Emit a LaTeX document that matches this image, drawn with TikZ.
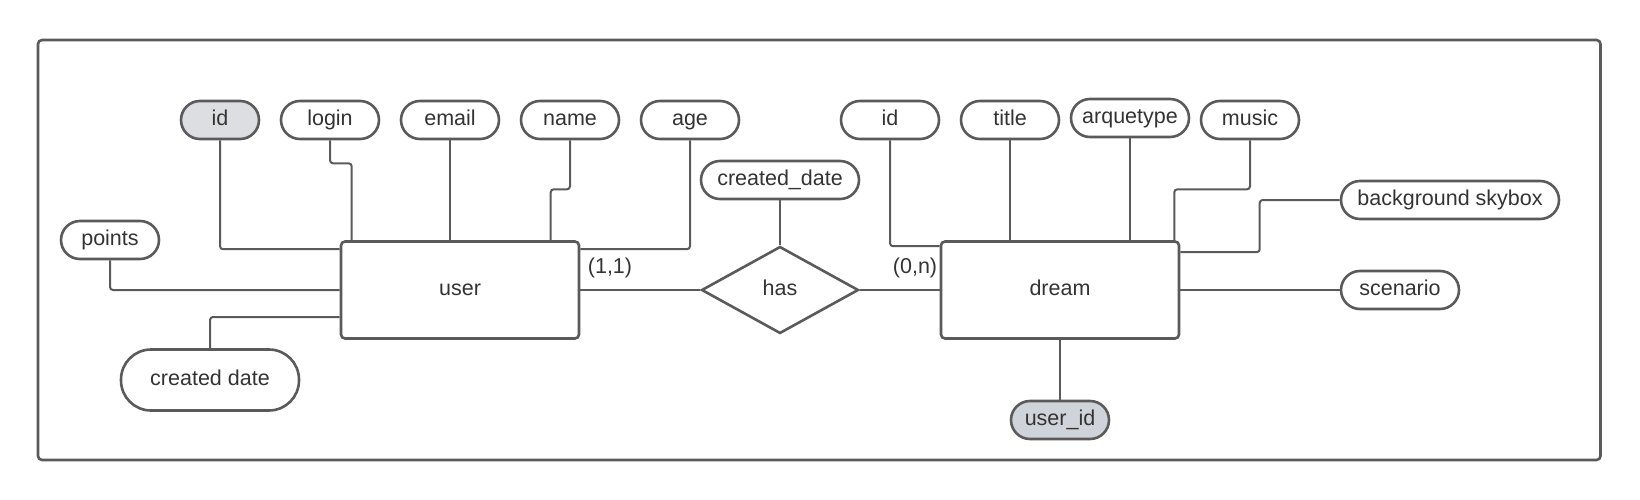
\documentclass[tikz,border=0pt]{standalone}
\usepackage{fontspec}
\setmainfont{Liberation Sans}
\usetikzlibrary{shapes.geometric}
\definecolor{lc}{HTML}{5A5A5A}
\definecolor{tc}{HTML}{333333}
\definecolor{keyfill}{HTML}{DCDEE1}
\definecolor{fkfill}{HTML}{CFD4DA}
\tikzset{
  txt/.style={text=tc, font=\fontsize{21.5}{25}\selectfont, text height=15.5pt, text depth=4.5pt},
  attr/.style={txt, draw=lc, line width=2.6pt, fill=white, rounded corners=19pt,
    minimum height=38pt, minimum width=98pt, inner sep=0pt},
  entity/.style={txt, draw=lc, line width=2.6pt, fill=white, rounded corners=4pt,
    minimum width=238pt, minimum height=97pt, inner sep=0pt},
  rel/.style={txt, diamond, draw=lc, line width=2.6pt, fill=white,
    minimum width=157pt, minimum height=87pt, inner sep=0pt},
  conn/.style={draw=lc, line width=2pt, rounded corners=3pt},
  card/.style={txt, inner sep=0pt},
}
\begin{document}
\begin{tikzpicture}[x=1pt, y=-1pt]
\useasboundingbox (0,0) rectangle (1640,500);
\draw[draw=lc, line width=2.6pt, rounded corners=4pt] (38,40) rectangle (1600.5,460);

% user side attributes
\node[attr, fill=keyfill, minimum width=78pt] (uid) at (220,120) {id};
\node[attr] (login) at (330,120) {login};
\node[attr] (email) at (450,120) {email};
\node[attr] (name) at (570,120) {name};
\node[attr] (age) at (690,120) {age};
\node[attr] (points) at (110,240) {points};
\node[attr, minimum width=178pt, minimum height=61pt, rounded corners=30pt] (cdate) at (210,380) {created date};

% relationship attribute
\node[attr, minimum width=158pt] (rdate) at (780,180) {created\_date};

% dream side attributes
\node[attr] (did) at (890,120) {id};
\node[attr] (title) at (1010,120) {title};
\node[attr, minimum width=118pt] (arq) at (1130,118) {arquetype};
\node[attr] (music) at (1250,120) {music};
\node[attr, minimum width=218pt] (sky) at (1450,200) {background skybox};
\node[attr, minimum width=118pt] (scen) at (1400,290) {scenario};
\node[attr, fill=fkfill] (uidd) at (1060,420) {user\_id};

% entities and relationship
\node[entity] (user) at (460,290) {user};
\node[entity] (dream) at (1060,290) {dream};
\node[rel] (has) at (780,290) {has};

% cardinalities
\node[card] (c11) at (610,268) {(1,1)};
\node[card] (c0n) at (915,268) {(0,n)};

% user connectors
\draw[conn] (uid.south) |- ([yshift=-9pt]user.north west);
\draw[conn] (login.south) -- ++(0,23) -| ([xshift=12pt]user.north west);
\draw[conn] (email.south) -- (email.south |- user.north);
\draw[conn] (name.south) -- ++(0,49) -| ([xshift=211pt]user.north west);
\draw[conn] (age.south) |- ([yshift=-9pt]user.north east);
\draw[conn] (points.south) |- (user.west);
\draw[conn] (cdate.north) |- ([yshift=-27pt]user.west);

% relationship connectors
\draw[conn] (rdate.south) -- (has.north);
\draw[conn] (user.east) -- (has.west);
\draw[conn] (has.east) -- (dream.west);

% dream connectors
\draw[conn] (did.south) |- ([yshift=-6pt]dream.north west);
\draw[conn] (title.south) -- (title.south |- dream.north);
\draw[conn] (arq.south) -- (arq.south |- dream.north);
\draw[conn] (music.south) -- ++(0,49) -| ([xshift=-6pt]dream.north east);
\draw[conn] (sky.west) -- ++(-80,0) |- ([yshift=-12pt]dream.north east);
\draw[conn] (dream.east) -- (scen.west);
\draw[conn] (dream.south) -- (uidd.north);
\end{tikzpicture}
\end{document}
